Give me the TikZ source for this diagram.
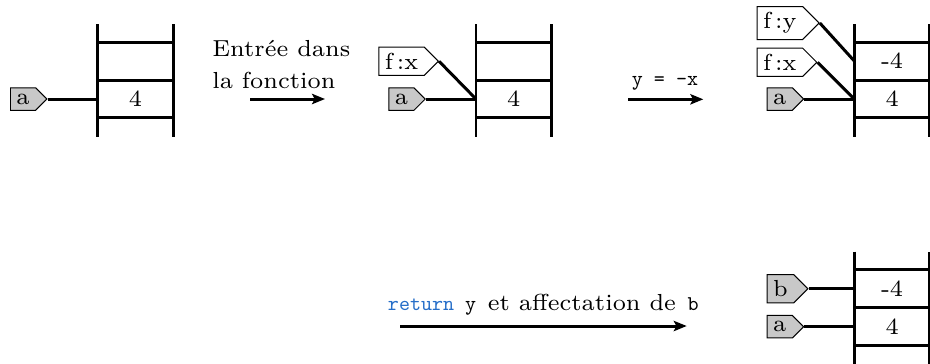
\documentclass[tikz,border=0pt]{standalone}
\usepackage{fontspec}
\usepackage{graphicx}
\usetikzlibrary{shapes.symbols,arrows.meta}
\definecolor{kwblue}{RGB}{38,110,200}
\definecolor{taggray}{RGB}{200,200,200}
\newcommand{\lbltt}[1]{\scalebox{0.634}{\fontsize{10}{12}\selectfont\ttfamily #1}}
\tikzset{
  memstack/.pic={
    \draw[stackline] (0,0) -- (0,112.7) (75.6,0) -- (75.6,112.7);
    \draw[stackline] (0,18) -- (75.6,18) (0,56) -- (75.6,56) (0,93.5) -- (75.6,93.5);
  }
}
\begin{document}
\begin{tikzpicture}[x=0.3017pt,y=-0.3017pt,
  every node/.style={font=\fontsize{7}{8.4}\selectfont, inner sep=1.8pt},
  label text/.style={inner sep=0pt},
  stackline/.style={line width=0.9pt},
  link/.style={line width=0.9pt},
  tag/.style={signal, signal to=east, draw, line width=0.3pt, anchor=west},
  vartag/.style={tag, fill=taggray},
  fntag/.style={tag, fill=white},
  move/.style={line width=0.9pt, -{Stealth[length=3.9pt,width=3.1pt,inset=0.8pt]}},
]
\useasboundingbox (0,0) rectangle (930,363);

% ---- state 1
\pic at (97.7,24) {memstack};
\coordinate (s1c2) at (97.7,99);
\node (v1) at (135.5,99) {4};
\node[vartag] (a1) at (10,99) {a};
\draw[link] (a1.east) -- (s1c2);

% ---- move 1
\node[label text, anchor=base west] (t1a) at (211.7,56.7) {Entrée dans};
\node[label text, anchor=base west] (t1b) at (211.7,88.3) {la fonction};
\coordinate (m1s) at (250,99);
\coordinate (m1e) at (325,99);
\draw[move] (m1s) -- (m1e);

% ---- state 2
\pic at (476,24) {memstack};
\coordinate (s2c2) at (476,99);
\node (v2) at (513.8,99) {4};
\node[fntag] (fx2) at (378.3,61.3) {f\,:x};
\node[vartag] (a2) at (388.3,99) {a};
\draw[link] (fx2.east) -- (s2c2);
\draw[link] (a2.east) -- (s2c2);

% ---- move 2
\node[label text, anchor=base] (t2) at (665,85.3) {\lbltt{y = -x}};
\coordinate (m2s) at (628.3,99.3);
\coordinate (m2e) at (703.3,99.3);
\draw[move] (m2s) -- (m2e);

% ---- state 3
\pic at (854.3,24) {memstack};
\coordinate (s3c1) at (854.3,61);
\coordinate (s3c2) at (854.3,99);
\node (v3a) at (892.1,61) {-4};
\node (v3b) at (892.1,99) {4};
\node[fntag] (fy3) at (756.7,23) {f\,:y};
\node[fntag] (fx3) at (756.7,62.3) {f\,:x};
\node[vartag] (a3) at (766.7,99) {a};
\draw[link] (fy3.east) -- (s3c1);
\draw[link] (fx3.east) -- (s3c2);
\draw[link] (a3.east) -- (s3c2);

% ---- move 3
\node[label text, anchor=base] (t3) at (543.3,310) {\lbltt{\textcolor{kwblue}{return} y}\hspace{0.5em}et affectation de\hspace{0.5em}\lbltt{b}};
\coordinate (m3s) at (400,326);
\coordinate (m3e) at (686.7,326);
\draw[move] (m3s) -- (m3e);

% ---- state 4
\pic at (854.3,251.7) {memstack};
\coordinate (s4c1) at (854.3,288.7);
\coordinate (s4c2) at (854.3,326.7);
\node (v4a) at (892.1,288.7) {-4};
\node (v4b) at (892.1,326.7) {4};
\node[vartag] (b4) at (766.7,288.7) {b};
\node[vartag] (a4) at (766.7,326.7) {a};
\draw[link] (b4.east) -- (s4c1);
\draw[link] (a4.east) -- (s4c2);
\end{tikzpicture}
\end{document}
